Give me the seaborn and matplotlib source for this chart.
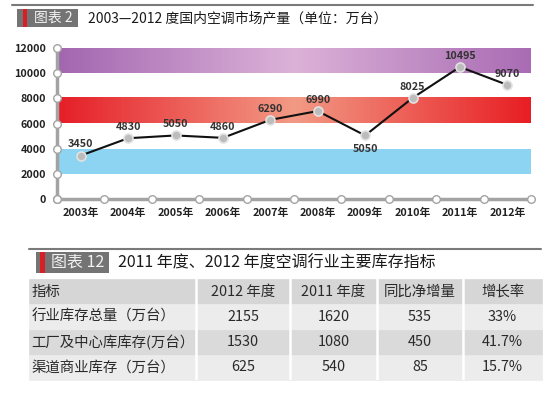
#importing relatable libraries
import numpy as np
import matplotlib
matplotlib.use("Agg")
import matplotlib.pyplot as plt
import seaborn as sns
from matplotlib.patches import Rectangle
from matplotlib.lines import Line2D
from matplotlib.colors import LinearSegmentedColormap

#chart data
years = ["2003年", "2004年", "2005年", "2006年", "2007年", "2008年", "2009年", "2010年", "2011年", "2012年"]
output = [3450, 4830, 5050, 4860, 6290, 6990, 5050, 8025, 10495, 9070]
y_ticks = [0, 2000, 4000, 6000, 8000, 10000, 12000]
bands = [(2000, 4000), (6000, 8000), (10000, 12000)]
chart_title = "2003—2012 度国内空调市场产量（单位：万台）"
chart_badge = "图表 2"

#table data
table_badge = "图表 12"
table_title = "2011 年度、2012 年度空调行业主要库存指标"
table_header = ["指标", "2012 年度", "2011 年度", "同比净增量", "增长率"]
row_names = ["行业库存总量（万台）", "工厂及中心库库存(万台）", "渠道商业库存（万台）"]
stock_2012 = [2155, 1530, 625]
stock_2011 = [1620, 1080, 540]
net_increase = [535, 450, 85]
growth_rate = ["33%", "41.7%", "15.7%"]

sns.set_style("white")
plt.rcParams["font.family"] = ["Noto Sans CJK SC", "DejaVu Sans"]

W, H = 550, 395
fig = plt.figure(figsize=(W / 100, H / 100), dpi=100)


#pixel helpers (origin top-left)
def fx(x):
    return x / W


def fy(y):
    return 1 - y / H


def badge_header(line_y, line_x0, line_x1, box, bar, badge_text, title_text, title_x, size):
    fig.add_artist(Line2D([fx(line_x0), fx(line_x1)], [fy(line_y), fy(line_y)],
                          transform=fig.transFigure, color="#7a7a7a", lw=1.5))
    x0, y0, x1, y1 = box
    fig.add_artist(Rectangle((fx(x0), fy(y1)), fx(x1) - fx(x0), fy(y0) - fy(y1),
                             transform=fig.transFigure, color="#747474", lw=0))
    fig.add_artist(Rectangle((fx(bar[0]), fy(y1)), fx(bar[1]) - fx(bar[0]), fy(y0) - fy(y1),
                             transform=fig.transFigure, color="#d91f26", lw=0))
    fig.text(fx((bar[1] + x1) / 2 + 1), fy((y0 + y1) / 2), badge_text, color="#f2f2f2",
             fontsize=size, ha="center", va="center")
    fig.text(fx(title_x), fy((y0 + y1) / 2), title_text, color="#1a1a1a",
             fontsize=size, ha="left", va="center")


#top header
badge_header(5, 12, 533, (17, 9, 78, 27), (23, 27), chart_badge, chart_title, 88, 10)

#line chart axes
ax = fig.add_axes([fx(57), fy(199), fx(531) - fx(57), fy(48) - fy(199)])
x = np.arange(len(years))

#gradient bands
purple = LinearSegmentedColormap.from_list("p", ["#a266b0", "#dcb2d8", "#a96cb4"])
red = LinearSegmentedColormap.from_list("r", ["#e61e28", "#f29a85", "#e81e24"])
grad = np.linspace(0, 1, 256).reshape(1, -1)
for (lo, hi), cmap in zip(bands, [None, red, purple]):
    if cmap is None:
        ax.axhspan(lo, hi, color="#8dd3f2", lw=0, zorder=0)
    else:
        ax.imshow(grad, cmap=cmap, extent=[-0.5, len(years) - 0.5, lo, hi],
                  aspect="auto", zorder=0)
ax.set_xlim(-0.5, len(years) - 0.5)
ax.set_ylim(0, 12000)

sns.lineplot(x=x, y=output, ax=ax, color="#111111", lw=1.5, marker="o",
             markersize=6.5, markerfacecolor="#bcbcbc", markeredgecolor="#e2e2e2",
             markeredgewidth=1.2, zorder=3)

#value labels
for i, v in enumerate(output):
    off = -10 if i == 6 else 8
    ax.annotate(str(v), (i, v), xytext=(0, off), textcoords="offset points",
                ha="center", va="center", fontsize=7.8, fontweight="bold", color="#333333")

#axes styling
for s in ["top", "right"]:
    ax.spines[s].set_visible(False)
for s in ["left", "bottom"]:
    ax.spines[s].set_color("#a3a3a3")
    ax.spines[s].set_linewidth(2.5)
ax.set_yticks(y_ticks)
ax.set_yticklabels([str(t) for t in y_ticks], fontsize=7.8, fontweight="bold", color="#222222")
ax.set_xticks(x)
ax.set_xticklabels(years, fontsize=7.8, fontweight="bold", color="#222222")
ax.tick_params(axis="y", length=0, pad=8)
ax.tick_params(axis="x", length=0, pad=6)
ax.set_xlabel("")
ax.set_ylabel("")

#circle ticks on axes
bounds = np.arange(len(years) + 1) - 0.5
ax.scatter(np.full(len(y_ticks), -0.5), y_ticks, s=30, color="white",
           edgecolor="#a3a3a3", linewidth=1, zorder=5, clip_on=False)
ax.scatter(bounds, np.zeros(len(bounds)), s=30, color="white",
           edgecolor="#a3a3a3", linewidth=1, zorder=5, clip_on=False)

#bottom header
badge_header(249, 29, 541, (36, 252, 109, 273), (40, 45), table_badge, table_title, 118, 11.5)

#table
tax = fig.add_axes([fx(29), fy(380), fx(542) - fx(29), fy(279) - fy(380)])
tax.axis("off")
cells = [[row_names[i], str(stock_2012[i]), str(stock_2011[i]), str(net_increase[i]), growth_rate[i]]
         for i in range(len(row_names))]
col_w = np.array([167, 94, 87, 86, 79], dtype=float)
col_w = col_w / col_w.sum()
row_colors = ["#ececec", "#dadada", "#ececec"]
tbl = tax.table(cellText=cells, colLabels=table_header, cellLoc="center",
                colWidths=list(col_w), bbox=[0, 0, 1, 1])
tbl.auto_set_font_size(False)
tbl.set_fontsize(10.4)
for (r, c), cell in tbl.get_celld().items():
    fc = "#d6d6d6" if r == 0 else row_colors[r - 1]
    cell.set_facecolor(fc)
    cell.set_edgecolor(fc)
    cell.set_linewidth(0.5)
    cell.get_text().set_color("#2a2a2a")
    if c == 0:
        cell.get_text().set_ha("left")
        cell.PAD = 0.015

#white column separators
for b in np.cumsum(col_w)[:-1]:
    tax.axvline(b, color="white", lw=1.8, zorder=10)
tax.set_xlim(0, 1)
tax.set_ylim(0, 1)

fig.savefig("out.png", dpi=100)
